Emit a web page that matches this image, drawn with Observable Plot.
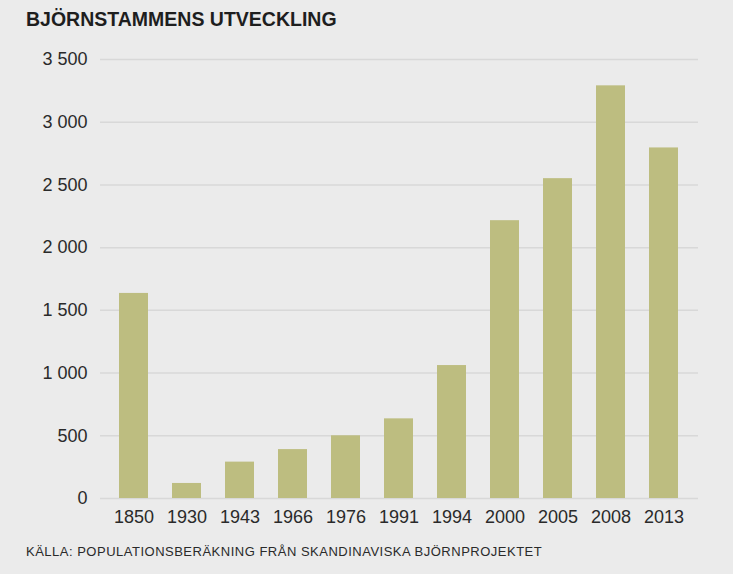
<!DOCTYPE html>
<html>
<head>
<meta charset="utf-8">
<script src="https://cdn.jsdelivr.net/npm/d3@7"></script>
<script src="https://cdn.jsdelivr.net/npm/@observablehq/plot@0.6"></script>
<style>
  html, body { margin: 0; padding: 0; }
  body { width: 733px; height: 574px; background: #ebebeb; position: relative; overflow: hidden; font-family: "Liberation Sans", Arial, sans-serif; color: #1e1e1e; }
  #title { position: absolute; left: 26px; top: 8px; font-weight: bold; font-size: 19.5px; }
  #chart { position: absolute; left: 0; top: 40px; }
  #caption { position: absolute; left: 26px; top: 544px; font-size: 13px; letter-spacing: 0.5px; color: #2a2a2a; }
</style>
</head>
<body>
<div id="title">BJÖRNSTAMMENS UTVECKLING</div>
<div id="chart"></div>
<div id="caption">KÄLLA: POPULATIONSBERÄKNING FRÅN SKANDINAVISKA BJÖRNPROJEKTET</div>
<script>
const years = ["1850", "1930", "1943", "1966", "1976", "1991", "1994", "2000", "2005", "2008", "2013"];
const bears = [1635, 120, 290, 390, 500, 635, 1060, 2215, 2550, 3290, 2795];
const yTicks = [0, 500, 1000, 1500, 2000, 2500, 3000, 3500];

const data = years.map((y, i) => ({year: y, value: bears[i]}));

const chart = Plot.plot({
  width: 733,
  height: 490,
  marginLeft: 100,
  marginRight: 35,
  marginTop: 19,
  marginBottom: 32,
  style: {background: "transparent", fontFamily: "Liberation Sans, Arial, sans-serif", fontSize: "18px", color: "#2a2a2a"},
  x: {domain: years, paddingInner: 0.45, paddingOuter: 0.36, label: null},
  y: {domain: [0, 3500], label: null},
  marks: [
    Plot.ruleY(yTicks, {stroke: "#d8d8d8", strokeWidth: 1.5}),
    Plot.barY(data, {x: "year", y: "value", fill: "#bdbd80"}),
    Plot.axisX({tickSize: 0, tickPadding: 12, fontSize: 18, label: null}),
    Plot.axisY({ticks: yTicks, tickSize: 0, tickPadding: 13, fontSize: 18, label: null, tickFormat: v => d3.format(",")(v).replace(/,/g, " ")})
  ]
});
document.getElementById("chart").appendChild(chart);
</script>
</body>
</html>
